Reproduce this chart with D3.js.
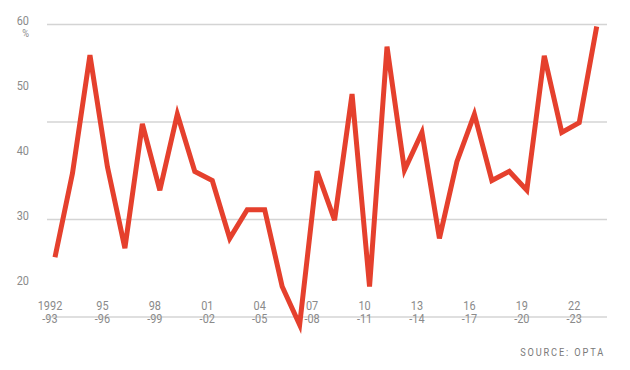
<!DOCTYPE html>
<html>
<head>
<meta charset="utf-8">
<script src="https://cdn.jsdelivr.net/npm/d3@7"></script>
<style>
  body { margin: 0; background: #fff; }
  svg { display: block; }
</style>
</head>
<body>
<div id="chart"></div>
<script>
"use strict";

// seasons 1992-93 .. 2023-24
var seasons = [];
for (var yr = 1992; yr <= 2023; yr++) {
  seasons.push(yr + "-" + String((yr + 1) % 100).padStart(2, "0"));
}

// share in % per season
var values = [24.2, 37.1, 55.3, 38.1, 25.6, 44.7, 34.5, 46.2, 37.4, 36.0,
              27.1, 31.5, 31.5, 19.7, 13.8, 37.4, 29.9, 49.3, 19.7, 56.6,
              37.6, 43.4, 27.1, 38.9, 46.2, 36.0, 37.4, 34.5, 55.2, 43.4,
              44.9, 59.7];

var gridValues = [60, 45, 30, 15];
var yLabels = [60, 50, 40, 30, 20];

// x tick labels, every third season
var tickSeasons = ["1992-93", "1995-96", "1998-99", "2001-02", "2004-05", "2007-08",
                   "2010-11", "2013-14", "2016-17", "2019-20", "2022-23"];
var tickTop = ["1992", "95", "98", "01", "04", "07", "10", "13", "16", "19", "22"];
var tickBottom = ["-93", "-96", "-99", "-02", "-05", "-08", "-11", "-14", "-17", "-20", "-23"];

var width = 630,
    height = 370;

// no condensed font installed, so Roboto squeezed horizontally
var font = "Roboto, 'Liberation Sans', sans-serif";
var squeeze = 0.84;
var textColor = "#8a8a8a";
var red = "#e5402d";

var x = d3.scalePoint()
  .domain(seasons)
  .range([55, 596.7]);

var y = d3.scaleLinear()
  .domain([15, 60])
  .range([317, 24.5]);

var svg = d3.select("#chart").append("svg")
  .attr("width", width)
  .attr("height", height)
  .style("background", "#fff");

function place(px, py) {
  return "translate(" + px + "," + py + ") scale(" + squeeze + ",1)";
}

// gridlines
svg.append("g").selectAll("line").data(gridValues)
  .enter().append("line")
    .attr("x1", 47)
    .attr("x2", 607)
    .attr("y1", function(d) { return y(d); })
    .attr("y2", function(d) { return y(d); })
    .attr("stroke", "#d4d4d4")
    .attr("stroke-width", 1.5);

// y labels (baseline sits on the value)
svg.append("g").selectAll("text").data(yLabels)
  .enter().append("text")
    .attr("transform", function(d) { return place(29, y(d) + 0.5); })
    .attr("text-anchor", "end")
    .style("font-family", font)
    .style("font-size", "13px")
    .style("fill", textColor)
    .text(function(d) { return d; });

svg.append("text")
  .attr("transform", place(29, 37))
  .attr("text-anchor", "end")
  .style("font-family", font)
  .style("font-size", "11px")
  .style("fill", textColor)
  .text("%");

// x labels, two lines
svg.append("g").selectAll("text").data(tickSeasons)
  .enter().append("text")
    .attr("transform", function(d) { return place(x(d) - 5, 310); })
    .attr("text-anchor", "middle")
    .style("font-family", font)
    .style("font-size", "13px")
    .style("fill", textColor)
    .text(function(d, i) { return tickTop[i]; });

svg.append("g").selectAll("text").data(tickSeasons)
  .enter().append("text")
    .attr("transform", function(d) { return place(x(d) - 5, 322.5); })
    .attr("text-anchor", "middle")
    .style("font-family", font)
    .style("font-size", "13px")
    .style("fill", textColor)
    .text(function(d, i) { return tickBottom[i]; });

// the line
var line = d3.line()
  .x(function(d, i) { return x(seasons[i]); })
  .y(function(d) { return y(d); });

svg.append("path")
  .datum(values)
  .attr("d", line)
  .attr("fill", "none")
  .attr("stroke", red)
  .attr("stroke-width", 5)
  .attr("stroke-linejoin", "miter")
  .attr("stroke-miterlimit", 4);

// source
svg.append("text")
  .attr("transform", place(605, 356))
  .attr("text-anchor", "end")
  .style("font-family", font)
  .style("font-size", "11px")
  .style("letter-spacing", "2.2px")
  .style("fill", "#7a7a7a")
  .text("SOURCE: OPTA");
</script>
</body>
</html>
